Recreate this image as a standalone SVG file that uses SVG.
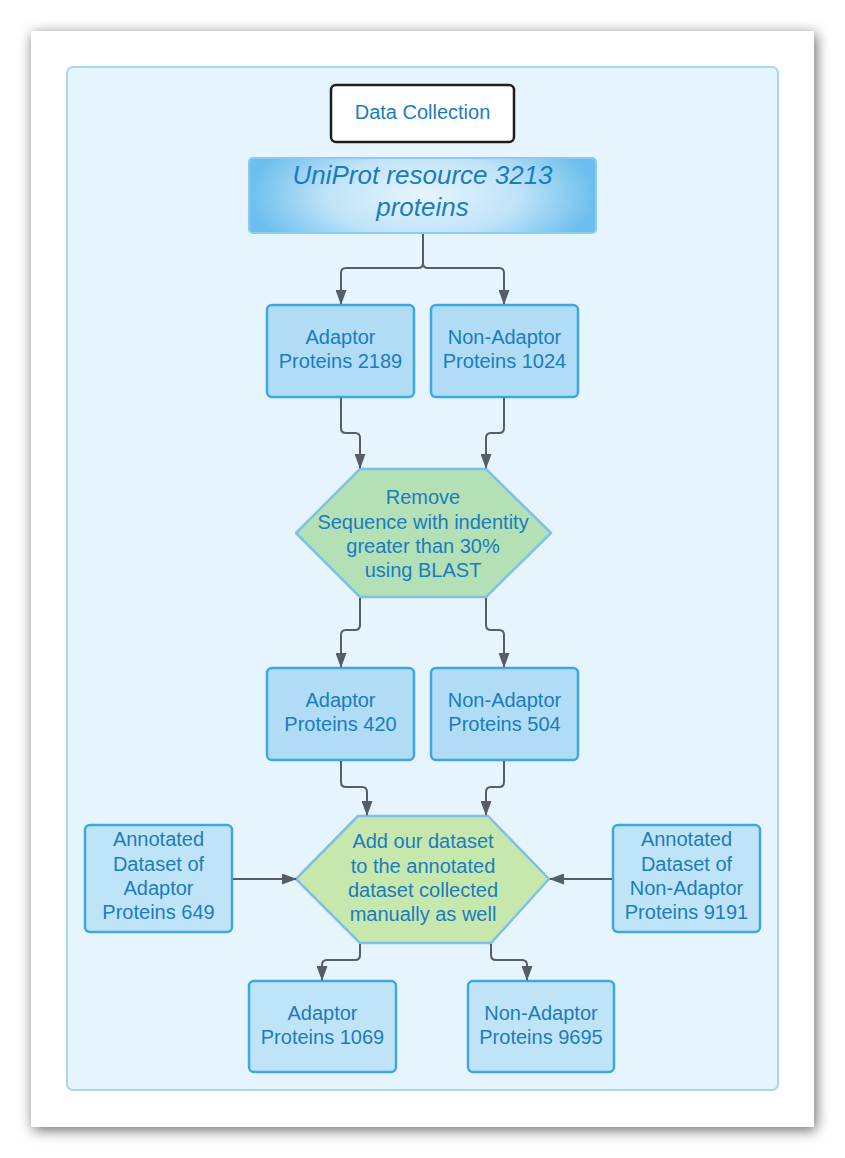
<svg xmlns="http://www.w3.org/2000/svg" width="845" height="1158" viewBox="0 0 845 1158">
<defs>
<filter id="sh" x="-10%" y="-10%" width="120%" height="120%">
<feDropShadow dx="2" dy="3" stdDeviation="7" flood-color="#000" flood-opacity="0.6"/>
</filter>
<radialGradient id="uni" cx="0.5" cy="0.5" r="0.5" gradientTransform="translate(0,-0.5) scale(1,2)">
<stop offset="0" stop-color="#e6f5fd"/>
<stop offset="0.55" stop-color="#bfe3f8"/>
<stop offset="1" stop-color="#6cbfee"/>
</radialGradient>
<marker id="ah" markerWidth="15" markerHeight="11" refX="14" refY="5.5" viewBox="0 0 15 11" markerUnits="userSpaceOnUse" orient="auto">
<path d="M0,0 L15,5.5 L0,11 Z" fill="#555e66"/>
</marker>
<style>
.box{stroke:#3ea7e0;stroke-width:2.5}
.b1{fill:#b0dcf5}
.b2{fill:#c0e4f7}
.hex{stroke:#80bfe9;stroke-width:2.5}
.t{font-family:"Liberation Sans",Arial,sans-serif;font-size:20px;fill:#1b7cc0;text-anchor:middle}
.c{fill:none;stroke:#555e66;stroke-width:2;marker-end:url(#ah)}
</style>
</defs>
<rect x="0" y="0" width="845" height="1158" fill="#ffffff"/>
<rect x="31" y="31" width="783" height="1096" fill="#ffffff" filter="url(#sh)"/>
<rect x="67" y="67" width="711" height="1023" rx="6" fill="#e6f4fe" stroke="#a6d6f4" stroke-width="2"/>

<g id="data-collection">
<rect x="331" y="85" width="183" height="57" rx="5" fill="#ffffff" stroke="#1e1e1e" stroke-width="2.5"/>
<text class="t" x="422.5" y="119">Data Collection</text>
</g>
<g id="uniprot">
<rect x="249" y="158" width="347" height="75" rx="4" fill="url(#uni)" stroke="#8ccbf0" stroke-width="2"/>
<text class="t" x="422.5" y="184" font-style="italic" style="font-size:26px">UniProt resource 3213</text>
<text class="t" x="422.5" y="216" font-style="italic" style="font-size:26px">proteins</text>
</g>
<g id="adaptor-2189">
<rect class="box b1" x="267" y="305" width="147" height="92" rx="5"/>
<text class="t" x="340.5" y="344">Adaptor</text>
<text class="t" x="340.5" y="368">Proteins 2189</text>
</g>
<g id="nonadaptor-1024">
<rect class="box b1" x="431" y="305" width="147" height="92" rx="5"/>
<text class="t" x="504.5" y="344">Non-Adaptor</text>
<text class="t" x="504.5" y="368">Proteins 1024</text>
</g>
<g id="remove-blast">
<path class="hex" d="M360,469 L486,469 L551,533 L486,597 L360,597 L296,533 Z" fill="#b3e0b5" stroke-linejoin="round"/>
<text class="t" x="423" y="504">Remove</text>
<text class="t" x="423" y="528.5">Sequence with indentity</text>
<text class="t" x="423" y="553">greater than 30%</text>
<text class="t" x="423" y="577">using BLAST</text>
</g>
<g id="adaptor-420">
<rect class="box b1" x="267" y="668" width="147" height="92" rx="5"/>
<text class="t" x="340.5" y="707">Adaptor</text>
<text class="t" x="340.5" y="731">Proteins 420</text>
</g>
<g id="nonadaptor-504">
<rect class="box b1" x="431" y="668" width="147" height="92" rx="5"/>
<text class="t" x="504.5" y="707">Non-Adaptor</text>
<text class="t" x="504.5" y="731">Proteins 504</text>
</g>
<g id="add-dataset">
<path class="hex" d="M358,816 L488,816 L549,879 L491,943 L360,943 L296,879 Z" fill="#c7e8ac" stroke-linejoin="round"/>
<text class="t" x="423" y="848">Add our dataset</text>
<text class="t" x="423" y="873">to the annotated</text>
<text class="t" x="423" y="897">dataset collected</text>
<text class="t" x="423" y="921">manually as well</text>
</g>
<g id="annotated-adaptor">
<rect class="box b2" x="85" y="825" width="147" height="107" rx="5"/>
<text class="t" x="158.5" y="846">Annotated</text>
<text class="t" x="158.5" y="871">Dataset of</text>
<text class="t" x="158.5" y="895">Adaptor</text>
<text class="t" x="158.5" y="919">Proteins 649</text>
</g>
<g id="annotated-nonadaptor">
<rect class="box b2" x="613" y="825" width="147" height="107" rx="5"/>
<text class="t" x="686.5" y="846">Annotated</text>
<text class="t" x="686.5" y="871">Dataset of</text>
<text class="t" x="686.5" y="895">Non-Adaptor</text>
<text class="t" x="686.5" y="919">Proteins 9191</text>
</g>
<g id="adaptor-1069">
<rect class="box b2" x="249" y="981" width="147" height="91" rx="5"/>
<text class="t" x="322.5" y="1020">Adaptor</text>
<text class="t" x="322.5" y="1044">Proteins 1069</text>
</g>
<g id="nonadaptor-9695">
<rect class="box b2" x="468" y="981" width="146" height="91" rx="5"/>
<text class="t" x="541" y="1020">Non-Adaptor</text>
<text class="t" x="541" y="1044">Proteins 9695</text>
</g>

<g id="connectors">
<path class="c" d="M423,234 L423,263 Q423,268 418,268 L346,268 Q341,268 341,273 L341,304"/>
<path class="c" d="M423,234 L423,263 Q423,268 428,268 L499,268 Q504,268 504,273 L504,304"/>
<path class="c" d="M341,398 L341,428 Q341,433 346,433 L355,433 Q360,433 360,438 L360,468"/>
<path class="c" d="M504,398 L504,428 Q504,433 499,433 L491,433 Q486,433 486,438 L486,468"/>
<path class="c" d="M360,598 L360,625 Q360,630 355,630 L346,630 Q341,630 341,635 L341,667"/>
<path class="c" d="M486,598 L486,625 Q486,630 491,630 L499,630 Q504,630 504,635 L504,667"/>
<path class="c" d="M341,761 L341,782 Q341,787 346,787 L362,787 Q367,787 367,792 L367,815"/>
<path class="c" d="M504,761 L504,782 Q504,787 499,787 L491,787 Q486,787 486,792 L486,815"/>
<path class="c" d="M233,879 L296,879"/>
<path class="c" d="M612,879 L550,879"/>
<path class="c" d="M360,944 L360,955 Q360,960 355,960 L327,960 Q322,960 322,965 L322,980"/>
<path class="c" d="M491,944 L491,955 Q491,960 496,960 L522,960 Q527,960 527,965 L527,980"/>
</g>
</svg>
